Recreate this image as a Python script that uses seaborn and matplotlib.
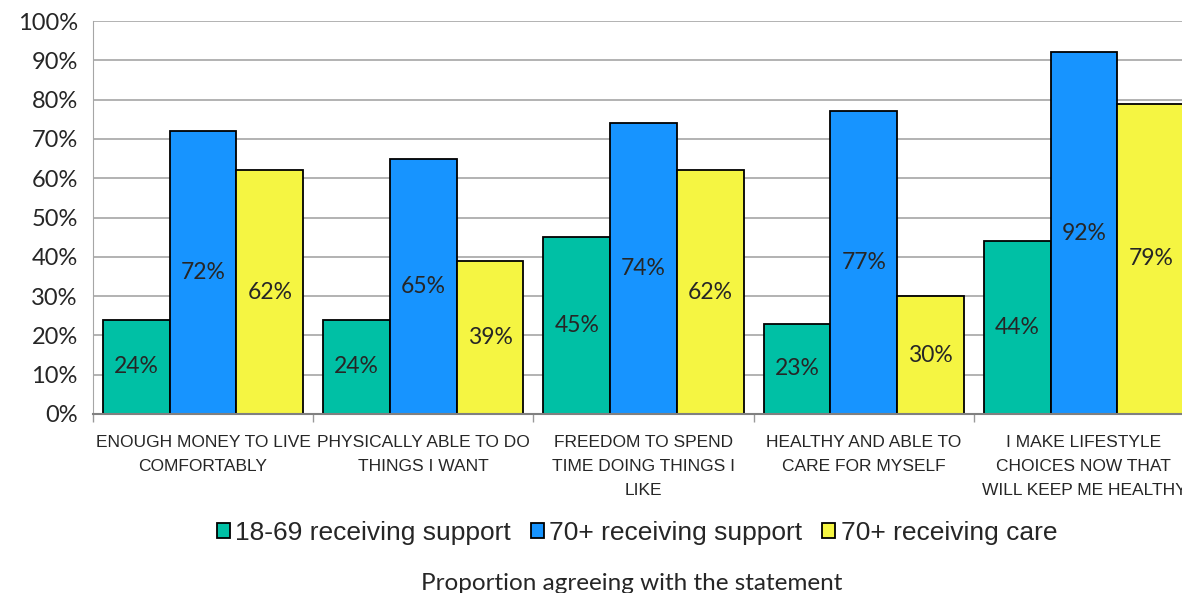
import pandas as pd
import matplotlib.pyplot as plt
import seaborn as sns
from matplotlib.ticker import PercentFormatter, FixedLocator

# Daten
statements = [
    "ENOUGH MONEY TO LIVE\nCOMFORTABLY",
    "PHYSICALLY ABLE TO DO\nTHINGS I WANT",
    "FREEDOM TO SPEND\nTIME DOING THINGS I\nLIKE",
    "HEALTHY AND ABLE TO\nCARE FOR MYSELF",
    "I MAKE LIFESTYLE\nCHOICES NOW THAT\nWILL KEEP ME HEALTHY",
]
groups = ["18-69 receiving support", "70+ receiving support", "70+ receiving care"]
support_18_69 = [24, 24, 45, 23, 44]
support_70 = [72, 65, 74, 77, 92]
care_70 = [62, 39, 62, 30, 79]

df = pd.DataFrame({
    "statement": statements * 3,
    "group": [groups[0]] * 5 + [groups[1]] * 5 + [groups[2]] * 5,
    "value": support_18_69 + support_70 + care_70,
})

colors = ["#00C0A5", "#1794FF", "#F5F542"]

sns.set_style("white")
plt.rcParams["font.family"] = ["Lato", "DejaVu Sans"]

fig = plt.figure(figsize=(11.82, 5.93), dpi=100)
ax = fig.add_axes([93 / 1182, (593 - 414) / 593, 1101 / 1182, 393 / 593])

sns.barplot(data=df, x="statement", y="value", hue="group", palette=colors,
            width=0.91, gap=0, edgecolor="black", linewidth=1.3,
            saturation=1, ax=ax, legend=True)

for cont in ax.containers:
    ax.bar_label(cont, fmt="%g%%", label_type="center", fontsize=16.5)

ax.set_ylim(0, 100)
ax.set_xlim(-0.5, 4.5)
ax.set_yticks(range(0, 101, 10))
ax.yaxis.set_major_formatter(PercentFormatter(decimals=0))
ax.tick_params(axis="y", labelsize=17, length=7, color="#999999", width=1, pad=4)
ax.yaxis.grid(True, color="#A6A6A6", linewidth=1.2)
ax.set_axisbelow(True)

# x-Ticks an den Kategoriegrenzen
ax.xaxis.set_major_locator(FixedLocator([-0.5, 0.5, 1.5, 2.5, 3.5, 4.5]))
ax.xaxis.set_major_formatter(plt.NullFormatter())
ax.xaxis.set_minor_locator(FixedLocator([0, 1, 2, 3, 4]))
ax.set_xticklabels(statements, minor=True, fontsize=12.5,
                   family=["Liberation Sans Narrow", "Liberation Sans"],
                   linespacing=1.75, va="top")
ax.tick_params(axis="x", which="major", length=6, color="#999999", width=1, bottom=True)
ax.tick_params(axis="x", which="minor", length=0, pad=15)

ax.set_xlabel("")
ax.set_ylabel("")
for s in ["top", "right"]:
    ax.spines[s].set_visible(False)
ax.spines["left"].set_color("#A6A6A6")
ax.spines["bottom"].set_color("#808080")
ax.spines["bottom"].set_linewidth(1.5)

handles, labels = ax.get_legend_handles_labels()
ax.legend(handles, labels, loc="center", bbox_to_anchor=(637 / 1182, 1 - 533 / 593),
          bbox_transform=fig.transFigure, ncol=3, frameon=False,
          prop={"family": "Liberation Sans", "size": 19},
          handlelength=0.5, handleheight=0.5, handletextpad=0.2,
          columnspacing=0.75)

fig.text(632 / 1182, 1 - 584 / 593, "Proportion agreeing with the statement",
         ha="center", va="center", fontsize=17.5)

fig.savefig("out.png", dpi=100)
